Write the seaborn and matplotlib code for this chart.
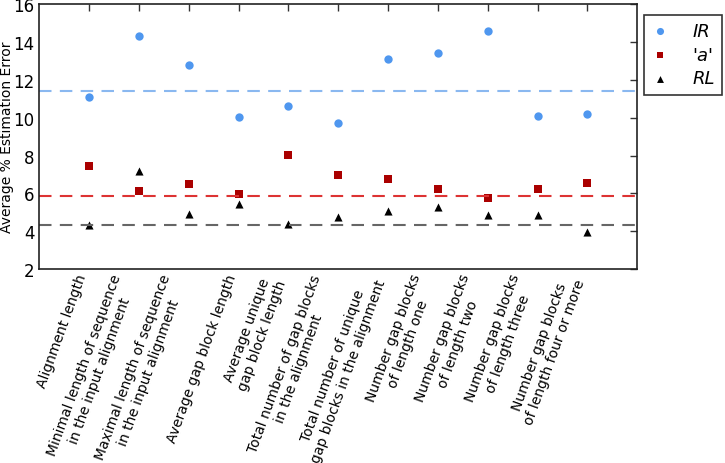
import numpy as np
import pandas as pd
import seaborn as sns
import matplotlib.pyplot as plt

# data
categories = [
    "Alignment length",
    "Minimal length of sequence\nin the input alignment",
    "Maximal length of sequence\nin the input alignment",
    "Average gap block length",
    "Average unique\ngap block length",
    "Total number of gap blocks\nin the alignment",
    "Total number of unique\ngap blocks in the alignment",
    "Number gap blocks\nof length one",
    "Number gap blocks\nof length two",
    "Number gap blocks\nof length three",
    "Number gap blocks\nof length four or more",
]
ir_vals = [11.07, 14.29, 12.8, 10.06, 10.63, 9.73, 13.12, 13.44, 14.6, 10.08, 10.18]
a_vals = [7.46, 6.1, 6.51, 5.94, 8.05, 6.95, 6.74, 6.23, 5.75, 6.24, 6.54]
rl_vals = [4.34, 7.18, 4.9, 5.43, 4.4, 4.76, 5.06, 5.29, 4.83, 4.85, 3.95]
ir_base = 11.42
a_base = 5.86
rl_base = 4.35

# colors
c_ir = "#4f97ef"
c_a = "#aa0000"
c_rl = "#000000"

sns.set_style("white")
plt.rcParams['font.family'] = ['DejaVu Sans']
plt.rcParams['xtick.direction'] = 'in'
plt.rcParams['ytick.direction'] = 'in'
plt.rcParams['text.color'] = 'black'
plt.rcParams['axes.labelcolor'] = 'black'
plt.rcParams['xtick.labelcolor'] = 'black'
plt.rcParams['ytick.labelcolor'] = 'black'

pos = np.arange(1, len(categories) + 1)
df = pd.DataFrame({"pos": pos, "IR": ir_vals, "a": a_vals, "RL": rl_vals})

fig = plt.figure(figsize=(7.25, 4.64), dpi=100)
ax = fig.add_axes([0.054, 0.418, 0.825, 0.571])

sns.scatterplot(data=df, x="pos", y="IR", color=c_ir, marker="o", s=36, linewidth=0, label="IR", ax=ax)
sns.scatterplot(data=df, x="pos", y="a", color=c_a, marker="s", s=30, linewidth=0, label="'a'", ax=ax)
sns.scatterplot(data=df, x="pos", y="RL", color=c_rl, marker="^", s=34, linewidth=0, label="RL", ax=ax)

ax.axhline(ir_base, color="#8ab8f0", linestyle="--", linewidth=1.5, dashes=(6, 4))
ax.axhline(a_base, color="#dd3333", linestyle="--", linewidth=1.5, dashes=(6, 4))
ax.axhline(rl_base, color="#666666", linestyle="--", linewidth=1.5, dashes=(6, 4))

ax.set_xlim(0, 12)
ax.set_ylim(2, 16)
ax.set_xticks(pos)
ax.set_xticklabels(categories, rotation=70, ha="right", multialignment="center", fontsize=10)
ax.set_yticks([2, 4, 6, 8, 10, 12, 14, 16])
ax.tick_params(axis="y", labelsize=12)
ax.tick_params(axis="x", pad=2)
ax.tick_params(top=True, right=True, length=5, width=1, color="#333333")
ax.set_xlabel("")
ax.set_ylabel("Average % Estimation Error", fontsize=10)
ax.yaxis.set_label_coords(-0.042, 0.5)

for spine in ax.spines.values():
    spine.set_edgecolor("#222222")
    spine.set_linewidth(1.2)

leg = ax.legend(loc="upper left", bbox_to_anchor=(1.011, 0.96), frameon=True,
                prop={"style": "italic", "size": 13}, borderaxespad=0,
                handlelength=1.0, handletextpad=1.3, fancybox=False, borderpad=0.4,
                labelspacing=0.32, markerscale=0.85)
leg.get_frame().set_edgecolor("black")
leg.get_frame().set_linewidth(1.2)

plt.savefig("out.png", dpi=100)
